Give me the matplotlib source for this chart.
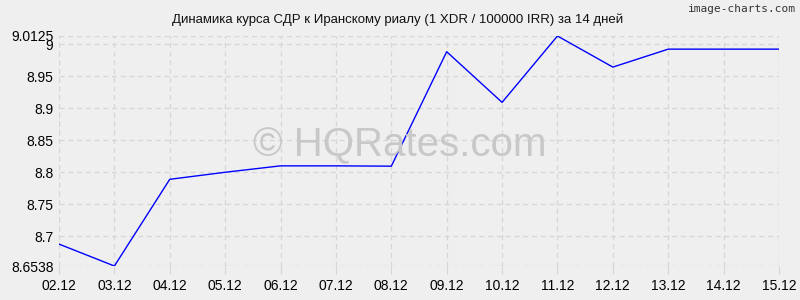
"""SDR to Iranian rial rate over 14 days, image-charts style."""

import matplotlib

matplotlib.use("Agg")
import matplotlib.pyplot as plt

dates = ["02.12", "03.12", "04.12", "05.12", "06.12", "07.12", "08.12",
         "09.12", "10.12", "11.12", "12.12", "13.12", "14.12", "15.12"]
rates = [8.688, 8.6538, 8.789, 8.800, 8.810, 8.810, 8.8095,
         8.988, 8.909, 9.0125, 8.964, 8.992, 8.992, 8.992]
y_ticks = [8.6538, 8.7, 8.75, 8.8, 8.85, 8.9, 8.95, 9, 9.0125]
y_labels = ["8.6538", "8.7", "8.75", "8.8", "8.85", "8.9", "8.95", "9", "9.0125"]

BG = "#efefef"
GRID = "#d6d6d6"
DASH = (0, (4, 3))

plt.rcParams["font.family"] = ["Liberation Sans", "DejaVu Sans"]

fig = plt.figure(figsize=(8, 3), dpi=100)
fig.patch.set_facecolor(BG)
ax = fig.add_axes([0.07375, 0.1133, 0.9, 0.7667])
ax.set_facecolor(BG)

x = list(range(len(dates)))
ax.plot(x, rates, color="#0000ff", linewidth=1.0, zorder=3)

ax.set_xlim(0, len(dates) - 1)
ax.set_ylim(y_ticks[0], y_ticks[-1])
ax.set_xticks(x)
ax.set_xticklabels(dates, fontsize=10)
ax.set_yticks(y_ticks)
ax.set_yticklabels(y_labels, fontsize=10)
ax.tick_params(axis="x", length=6, color=GRID, pad=3)
ax.tick_params(axis="y", length=0, pad=4)

ax.grid(True, color=GRID, linestyle=DASH, linewidth=0.9, zorder=0)
for side in ["top", "right", "left", "bottom"]:
    ax.spines[side].set_visible(False)
ax.axhline(y_ticks[0], color=GRID, linestyle=DASH, linewidth=0.9, zorder=0)
ax.axvline(0, color=GRID, linestyle=DASH, linewidth=0.9, zorder=0)
ax.axvline(len(dates) - 1, color=GRID, linestyle=DASH, linewidth=0.9, zorder=0)

fig.text(0.4965, 0.935, "Динамика курса СДР к Иранскому риалу (1 XDR / 100000 IRR) за 14 дней",
         ha="center", va="center", fontsize=9.5, color="#111111")
fig.text(0.995, 0.985, "image-charts.com", ha="right", va="top", fontsize=8,
         family="DejaVu Sans Mono", color="#333333")
fig.text(0.5, 0.515, "© HQRates.com", ha="center", va="center",
         fontsize=29, color="#c8c8c8", zorder=1)

fig.savefig("out.png", dpi=100, facecolor=fig.get_facecolor())
